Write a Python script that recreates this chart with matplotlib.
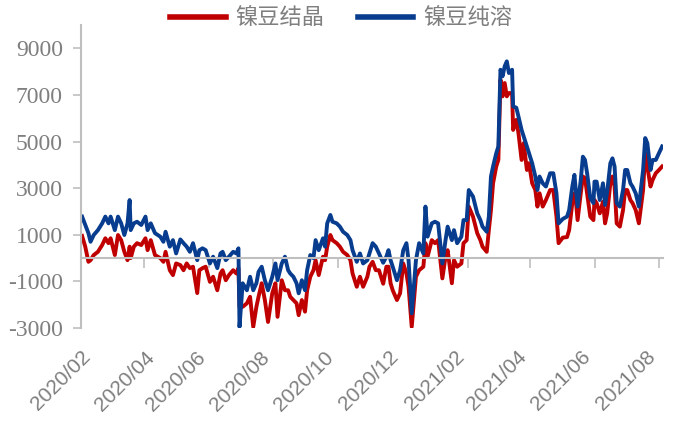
import numpy as np
import pandas as pd
import matplotlib
matplotlib.use("Agg")
import matplotlib.pyplot as plt
import matplotlib.dates as mdates
from matplotlib.ticker import FuncFormatter

plt.rcParams["axes.unicode_minus"] = False

# 镍豆结晶 / 镍豆纯溶 spreads (元/吨), sampled every few days
dates = [
    "2020-02-02", "2020-02-05", "2020-02-08", "2020-02-10", "2020-02-13", "2020-02-17",
    "2020-02-21", "2020-02-24", "2020-02-27", "2020-02-29", "2020-03-04", "2020-03-07",
    "2020-03-10", "2020-03-13", "2020-03-16", "2020-03-18", "2020-03-19", "2020-03-22",
    "2020-03-25", "2020-03-29", "2020-04-02", "2020-04-04", "2020-04-07", "2020-04-11",
    "2020-04-16", "2020-04-19", "2020-04-21", "2020-04-25", "2020-04-28", "2020-05-01",
    "2020-05-05", "2020-05-08", "2020-05-11", "2020-05-14", "2020-05-17", "2020-05-21",
    "2020-05-23", "2020-05-26", "2020-05-29", "2020-06-02", "2020-06-05", "2020-06-09",
    "2020-06-12", "2020-06-14", "2020-06-17", "2020-06-20", "2020-06-24", "2020-06-27",
    "2020-06-29", "2020-06-30", "2020-07-03", "2020-07-07", "2020-07-10", "2020-07-13",
    "2020-07-16", "2020-07-18", "2020-07-21", "2020-07-24", "2020-07-27", "2020-07-31",
    "2020-08-03", "2020-08-05", "2020-08-09", "2020-08-12", "2020-08-15", "2020-08-17",
    "2020-08-20", "2020-08-23", "2020-08-25", "2020-08-28", "2020-08-31", "2020-09-02",
    "2020-09-05", "2020-09-08", "2020-09-10", "2020-09-13", "2020-09-17", "2020-09-19",
    "2020-09-21", "2020-09-24", "2020-09-26", "2020-09-30", "2020-10-03", "2020-10-06",
    "2020-10-10", "2020-10-13", "2020-10-15", "2020-10-19", "2020-10-22", "2020-10-25",
    "2020-10-29", "2020-10-31", "2020-11-03", "2020-11-06", "2020-11-09", "2020-11-13",
    "2020-11-16", "2020-11-18", "2020-11-20", "2020-11-22", "2020-11-26", "2020-11-29",
    "2020-12-02", "2020-12-05", "2020-12-07", "2020-12-10", "2020-12-14", "2020-12-17",
    "2020-12-21", "2020-12-23", "2020-12-25", "2020-12-29", "2021-01-01", "2021-01-04",
    "2021-01-08", "2021-01-11", "2021-01-13", "2021-01-17", "2021-01-19", "2021-01-22",
    "2021-01-26", "2021-01-28", "2021-01-31", "2021-02-02", "2021-02-06", "2021-02-10",
    "2021-02-13", "2021-02-15", "2021-02-19", "2021-02-21", "2021-02-23", "2021-02-25",
    "2021-02-28", "2021-03-02", "2021-03-04", "2021-03-06", "2021-03-08", "2021-03-10",
    "2021-03-12", "2021-03-15", "2021-03-16", "2021-03-19", "2021-03-21", "2021-03-24",
    "2021-03-26", "2021-03-29", "2021-03-31", "2021-04-03", "2021-04-06", "2021-04-08",
    "2021-04-10", "2021-04-13", "2021-04-16", "2021-04-20", "2021-04-23", "2021-04-26",
    "2021-04-28", "2021-05-02", "2021-05-06", "2021-05-08", "2021-05-11", "2021-05-13",
    "2021-05-14", "2021-05-16", "2021-05-19", "2021-05-21", "2021-05-23", "2021-05-25",
    "2021-05-28", "2021-05-31", "2021-06-01", "2021-06-03", "2021-06-06", "2021-06-09",
    "2021-06-11", "2021-06-13", "2021-06-16", "2021-06-18", "2021-06-20", "2021-06-22",
    "2021-06-25", "2021-06-28", "2021-06-30", "2021-07-02", "2021-07-05", "2021-07-07",
    "2021-07-10", "2021-07-13", "2021-07-17", "2021-07-19", "2021-07-21", "2021-07-24",
    "2021-07-26", "2021-07-29", "2021-08-01", "2021-08-04",
]

crystal = [
    950, 490, -160, -90, 130, 270, 560, 850, 640, 850, 130, 990,
    770, 270, -90, 490, 0, 490, 640, 560, 850, 340, 770, 130,
    0, -160, 270, -520, -730, -230, -300, -520, -230, -430, -370, -1500,
    -520, -430, -370, -1020, -800, -1380, -660, -520, -950, -730, -520, -660,
    -430, -2090, -2090, -1940, -1660, -2950, -2090, -1660, -1080, -1800, -2740, -1510,
    -1080, -2520, -950, -1380, -1380, -1660, -1800, -1940, -2450, -1800, -2300, -1380,
    -800, -520, -90, -730, 60, -90, 490, 990, 770, 640, 490, 270,
    130, -90, -660, -1230, -800, -1230, -800, -370, -160, -520, -520, -1100,
    -370, -370, -1080, -1380, -1800, -1510, -230, -660, -1230, -2950, -800, -520,
    -370, 640, 60, 770, 640, 770, -870, 60, 340, -1080, -90, -370,
    -230, 640, 770, 2210, 1780, 1070, 770, 490, 270, 1200, 2060, 3210,
    3930, 4210, 7650, 6940, 7510, 6940, 7080, 7080, 5500, 5930, 5370, 4210,
    4930, 3780, 4070, 3210, 2920, 2210, 2780, 2210, 2490, 2920, 2920, 1780,
    640, 880, 900, 1200, 2360, 2780, 2640, 1630, 2780, 3500, 3430, 2780,
    1780, 1630, 2490, 2360, 1920, 2420, 1490, 1920, 3210, 3500, 3070, 1490,
    1350, 2060, 2920, 2920, 2490, 2360, 2060, 1490, 2920, 4500, 3930, 3070,
    3350, 3640, 3780, 3930,
]

dissolve = [
    1780, 1420, 1070, 700, 990, 1200, 1490, 1780, 1490, 1780, 1200, 1780,
    1490, 990, 1490, 2490, 1200, 1490, 1560, 1420, 1780, 1200, 1490, 1070,
    920, 700, 1130, 490, 770, 200, 800, 640, 490, 270, 640, -90,
    340, 420, 340, -230, 60, -430, 200, 270, -90, 60, 270, 200,
    420, -2950, -1080, -1380, -800, -1380, -1080, -590, -370, -950, -1380, -800,
    -230, -950, -230, 60, -520, -660, -800, -1080, -1510, -950, -1380, -520,
    130, 0, 770, 340, 850, 490, 1490, 1850, 1560, 1490, 1350, 1130,
    990, 770, 340, -160, 200, -230, -90, 200, 640, 490, 200, -200,
    60, 340, -90, -370, -950, -520, 340, 640, -90, -2370, -90, 640,
    200, 2210, 920, 1490, 1560, 1490, -230, 770, 1350, 770, 1200, 640,
    920, 1630, 1630, 2920, 2640, 1920, 1630, 1350, 1130, 1780, 3500, 3930,
    4500, 4790, 8080, 7800, 8230, 8440, 7940, 8080, 6510, 6450, 6080, 5500,
    5220, 4790, 4500, 4070, 3500, 2920, 3500, 3210, 3070, 3640, 3640, 2780,
    1490, 1680, 1780, 2060, 3070, 3570, 3070, 2210, 3350, 4350, 4210, 3640,
    2580, 2360, 3280, 3280, 2490, 3210, 2280, 2850, 4070, 4280, 3930, 2360,
    2210, 2920, 3780, 3780, 3210, 3070, 2780, 2210, 3780, 5150, 4930, 3780,
    4210, 4210, 4500, 4790,
]

labels = ["镍豆结晶", "镍豆纯溶"]
colors = ["#c00000", "#073c8e"]

x = pd.to_datetime(dates)
grey = "#7f7f7f"
axis_grey = "#bfbfbf"

fig = plt.figure(figsize=(6.73, 4.28), dpi=100)
ax = fig.add_axes([0.1204, 0.2336, 0.865, 0.708])

ax.plot(x, crystal, color=colors[0], lw=2.8, label=labels[0])
ax.plot(x, dissolve, color=colors[1], lw=2.8, label=labels[1])

ax.set_xlim(pd.Timestamp("2020-02-01"), pd.Timestamp("2021-08-05"))
ax.set_ylim(-3000, 10000)
ax.set_yticks(np.arange(-3000, 9001, 2000))
ax.yaxis.set_major_formatter(FuncFormatter(lambda v, _: f"{v:.0f}"))

for side in ["top", "right"]:
    ax.spines[side].set_visible(False)
ax.spines["left"].set_color(axis_grey)
ax.spines["left"].set_linewidth(1.5)
ax.spines["bottom"].set_position(("data", 0))
ax.spines["bottom"].set_color(axis_grey)
ax.spines["bottom"].set_linewidth(1.5)

ax.tick_params(axis="y", direction="out", length=6, width=1.2, color=axis_grey,
               labelcolor=grey, labelsize=17, pad=7)
for t in ax.get_yticklabels():
    t.set_fontfamily("Liberation Serif")

ax.xaxis.set_major_locator(mdates.MonthLocator(bymonth=[2, 4, 6, 8, 10, 12]))
ax.tick_params(axis="x", direction="out", length=7, width=1.2, color=axis_grey,
               labelbottom=False)

# date labels sit below the plot, not on the zero line
sec = ax.secondary_xaxis("bottom")
sec.xaxis.set_major_locator(mdates.MonthLocator(bymonth=[2, 4, 6, 8, 10, 12]))
sec.xaxis.set_major_formatter(mdates.DateFormatter("%Y/%m"))
sec.spines["bottom"].set_visible(False)
sec.tick_params(axis="x", length=0, pad=14, labelsize=15, labelcolor=grey)
for t in sec.get_xticklabels():
    t.set_fontfamily("Liberation Sans")
    t.set_rotation(45)
    t.set_ha("right")
    t.set_va("top")
    t.set_rotation_mode("anchor")

leg = fig.legend(loc="center", bbox_to_anchor=(0.507, 0.958), ncol=2, frameon=False,
                 handlelength=2.5, handletextpad=0.45, columnspacing=1.5,
                 prop={"family": "Noto Sans CJK SC", "size": 16})
for line in leg.get_lines():
    line.set_linewidth(4)
for t in leg.get_texts():
    t.set_color(grey)

fig.savefig("out.png", dpi=100)
